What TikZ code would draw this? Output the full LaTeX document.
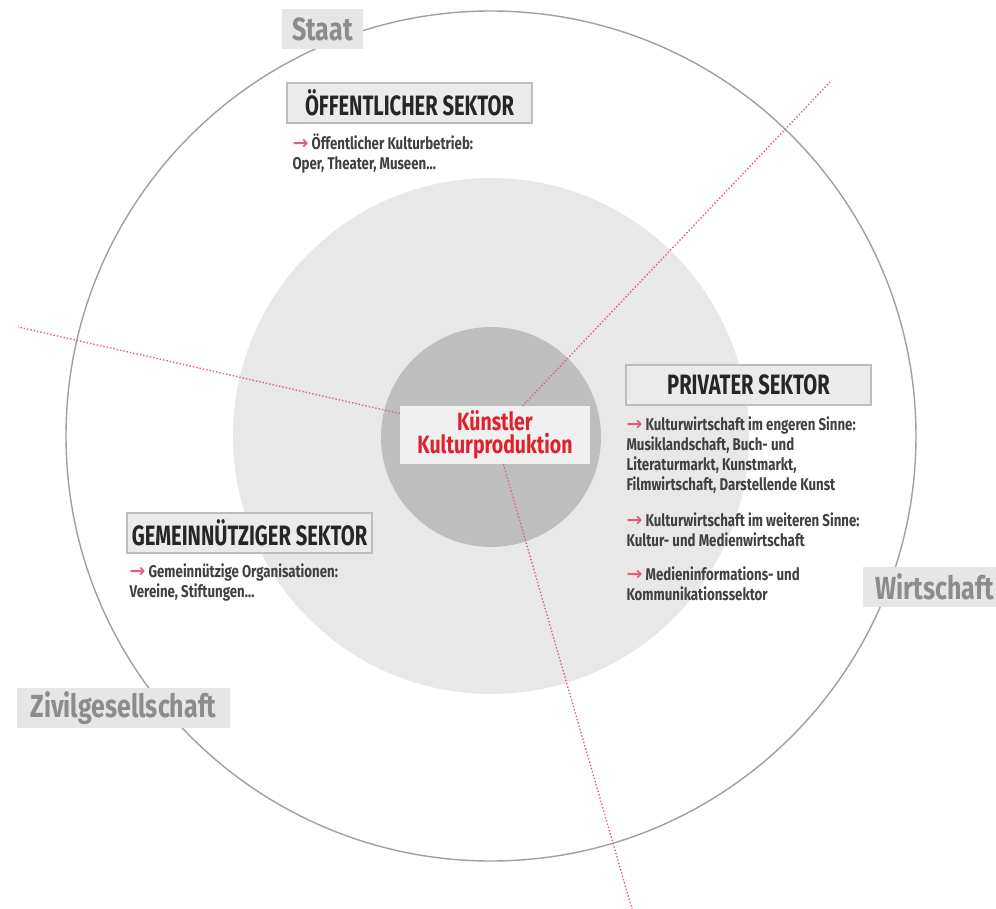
\documentclass[tikz,border=0pt]{standalone}
\usepackage{fontspec}
\newfontfamily\condfont[FakeStretch=0.72]{Fira Sans}
\newfontfamily\widefont[FakeStretch=0.78]{Fira Sans}
\newfontfamily\pfeilfont{DejaVu Sans}
\usetikzlibrary{positioning}

\definecolor{ringgray}{HTML}{A0A0A0}
\definecolor{ringlight}{HTML}{E8E8E8}
\definecolor{ringdark}{HTML}{BEBEBE}
\definecolor{boxfill}{HTML}{EBEBEB}
\definecolor{kernfill}{HTML}{F0F0F0}
\definecolor{boxline}{HTML}{BDBDBD}
\definecolor{labelfill}{HTML}{E6E6E6}
\definecolor{labeltext}{HTML}{8C8C8C}
\definecolor{achsered}{HTML}{E2607E}
\definecolor{kernred}{HTML}{E1202E}

\newcommand{\pfeil}{{\pfeilfont\color{achsered}\fontsize{19}{20}\selectfont →}\ }

\begin{document}
\begin{tikzpicture}[x=1pt,y=-1pt,
  sektor/.style={draw=boxline,fill=boxfill,line width=1.3pt,minimum width=245pt,minimum height=40pt,inner sep=0pt,font=\condfont\bfseries\fontsize{28}{28}\selectfont,text=black!85},
  info/.style={align=left,inner sep=0pt,anchor=north west,font=\widefont\bfseries\fontsize{17}{20}\selectfont,text=black!75},
  bereich/.style={fill=labelfill,inner sep=0pt,minimum height=40pt,font=\widefont\bfseries\fontsize{32}{32}\selectfont,text=labeltext},
  kern/.style={fill=kernfill,inner sep=0pt,minimum width=190pt,minimum height=58pt,align=center,font=\widefont\bfseries\fontsize{25}{23}\selectfont,text=kernred},
  achse/.style={draw=achsered,dotted,line width=1.4pt}]
\useasboundingbox (0,0) rectangle (996,909);

% rings
\draw[ringgray,line width=1.4pt] (491,436) circle (425pt);
\fill[ringlight] (491,436) circle (258pt);
\fill[ringdark] (491,437) circle (110pt);

% sectors
\node[kern] (kuenstler) at (495,435) {Künstler\\Kulturproduktion};

\node[sektor] (oeff) at (409.5,103) {ÖFFENTLICHER SEKTOR};
\node[info,below=10pt of oeff.south west,anchor=north west,xshift=6pt] (oefftext)
  {\pfeil Öffentlicher Kulturbetrieb:\\Oper, Theater, Museen\dots};

\node[sektor] (privat) at (748.5,385) {PRIVATER SEKTOR};
\node[info,below=11pt of privat.south west,anchor=north west,xshift=1pt] (privtext1)
  {\pfeil Kulturwirtschaft im engeren Sinne:\\Musiklandschaft, Buch- und\\Literaturmarkt, Kunstmarkt,\\Filmwirtschaft, Darstellende Kunst};
\node[info,below=19pt of privtext1.south west,anchor=north west] (privtext2)
  {\pfeil Kulturwirtschaft im weiteren Sinne:\\Kultur- und Medienwirtschaft};
\node[info,below=19pt of privtext2.south west,anchor=north west] (privtext3)
  {\pfeil Medieninformations- und\\Kommunikationssektor};

\node[sektor] (gemein) at (249.5,533) {GEMEINNÜTZIGER SEKTOR};
\node[info,below=10pt of gemein.south west,anchor=north west,xshift=3pt] (gemeintext)
  {\pfeil Gemeinnützige Organisationen:\\Vereine, Stiftungen\dots};

% areas
\node[bereich,minimum width=81pt] (staat) at (322.5,29) {Staat};
\node[bereich,minimum width=150pt,anchor=west,inner xsep=12pt,text width=126pt] (wirtschaft) at (863,587) {Wirtschaft};
\node[bereich,minimum width=213pt] (zivil) at (123.5,708) {Zivilgesellschaft};

% axes
\coordinate (nordost) at (830,82);
\coordinate (west) at (18,327);
\coordinate (sued) at (632,909);
\draw[achse] (kuenstler) -- (nordost);
\draw[achse] (kuenstler) -- (west);
\draw[achse] (kuenstler) -- (sued);
\end{tikzpicture}
\end{document}
